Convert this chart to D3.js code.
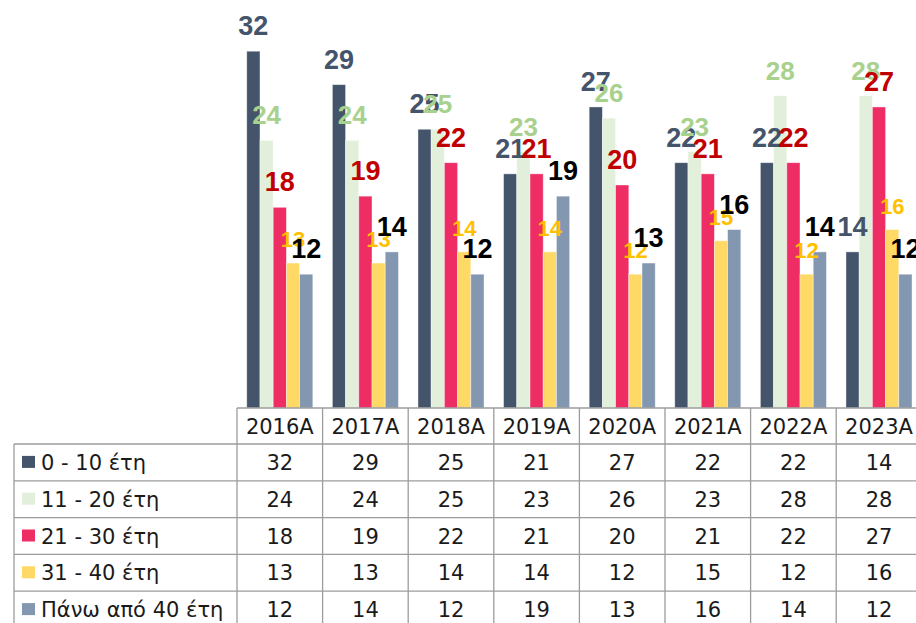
<!DOCTYPE html>
<html>
<head>
<meta charset="utf-8">
<title>Age groups</title>
<script src="https://d3js.org/d3.v7.min.js"></script>
<style>
body { margin: 0; background: #fff; }
</style>
</head>
<body>
<svg id="chart" width="916" height="623"></svg>
<script>
const categories = ["2016A", "2017A", "2018A", "2019A", "2020A", "2021A", "2022A", "2023A"];
const seriesNames = ["0 - 10 έτη", "11 - 20 έτη", "21 - 30 έτη", "31 - 40 έτη", "Πάνω από 40 έτη"];
const age0to10 = [32, 29, 25, 21, 27, 22, 22, 14];
const age11to20 = [24, 24, 25, 23, 26, 23, 28, 28];
const age21to30 = [18, 19, 22, 21, 20, 21, 22, 27];
const age31to40 = [13, 13, 14, 14, 12, 15, 12, 16];
const ageOver40 = [12, 14, 12, 19, 13, 16, 14, 12];
const series = [age0to10, age11to20, age21to30, age31to40, ageOver40];

const barColors = ["#44546A", "#E2EFDA", "#EE2D64", "#FFD966", "#8497B0"];
const labelColors = ["#44546A", "#A9D18E", "#C00000", "#FFC000", "#000000"];
const labelSizes = [27, 26, 27, 22, 27];

const svg = d3.select("#chart");
const BASE = 408;
const COL_W = 85.6;
const TABLE_X0 = 237;
const ROW_H = 36.8;
const HEAD_H = 36;

const x = d3.scaleBand()
    .domain(categories)
    .range([TABLE_X0, TABLE_X0 + COL_W * categories.length])
    .paddingInner(0).paddingOuter(0);

const xSub = d3.scaleBand()
    .domain(d3.range(series.length))
    .range([0, x.bandwidth()])
    .paddingInner(0).paddingOuter(0.74);

const y = d3.scaleLinear()
    .domain([0, 35])
    .range([BASE, BASE - 35 * 11.15]);

// bars
series.forEach((vals, si) => {
    svg.append("g").selectAll("rect")
        .data(vals)
        .enter()
        .append("rect")
        .attr("x", (d, i) => x(categories[i]) + xSub(si))
        .attr("y", d => y(d))
        .attr("width", xSub.bandwidth())
        .attr("height", d => BASE - y(d))
        .attr("fill", barColors[si])
        .attr("stroke", "rgba(255,255,255,0.5)")
        .attr("stroke-width", 0.8);
});

// labels
series.forEach((vals, si) => {
    svg.append("g").selectAll("text")
        .data(vals)
        .enter()
        .append("text")
        .attr("x", (d, i) => x(categories[i]) + xSub(si) + xSub.bandwidth() / 2)
        .attr("y", d => y(d) - 16)
        .attr("text-anchor", "middle")
        .style("font-family", "'Liberation Sans', Arial, sans-serif")
        .style("font-weight", "bold")
        .style("font-size", labelSizes[si] + "px")
        .attr("fill", labelColors[si])
        .text(d => d);
});

// data table
const table = svg.append("g");
const lineColor = "#9c9c9c";
const fontTable = "'DejaVu Sans', sans-serif";
const tableRight = x.range()[1];
const rowsTop = BASE + HEAD_H;

function hline(x1, x2, yy) {
    table.append("line").attr("x1", x1).attr("x2", x2).attr("y1", yy).attr("y2", yy)
        .attr("stroke", lineColor).attr("stroke-width", 1.3);
}
function vline(xx, y1, y2) {
    table.append("line").attr("x1", xx).attr("x2", xx).attr("y1", y1).attr("y2", y2)
        .attr("stroke", lineColor).attr("stroke-width", 1.3);
}

hline(TABLE_X0, tableRight, BASE);
for (let r = 0; r <= series.length; r++) {
    hline(14, tableRight, rowsTop + r * ROW_H);
}
vline(14, rowsTop, 640);
categories.forEach((c, i) => {
    vline(x(c), BASE, 640);
});
vline(tableRight, BASE, 640);

// header
table.selectAll("text.head")
    .data(categories)
    .enter()
    .append("text")
    .attr("class", "head")
    .attr("x", d => x(d) + x.bandwidth() / 2)
    .attr("y", BASE + HEAD_H / 2 + 7.6)
    .attr("text-anchor", "middle")
    .style("font-family", fontTable)
    .style("font-size", "21px")
    .attr("fill", "#1a1a1a")
    .text(d => d);

// rows
series.forEach((vals, si) => {
    const cy = rowsTop + si * ROW_H + ROW_H / 2;
    table.append("rect")
        .attr("x", 22).attr("y", cy - 6.5)
        .attr("width", 13).attr("height", 12)
        .attr("fill", barColors[si]);
    table.append("text")
        .attr("x", 41).attr("y", cy + 7.6)
        .style("font-family", fontTable)
        .style("font-size", "21px")
        .attr("fill", "#1a1a1a")
        .text(seriesNames[si]);
    table.append("g").selectAll("text")
        .data(vals)
        .enter()
        .append("text")
        .attr("x", (d, i) => x(categories[i]) + x.bandwidth() / 2)
        .attr("y", cy + 7.6)
        .attr("text-anchor", "middle")
        .style("font-family", fontTable)
        .style("font-size", "21px")
        .attr("fill", "#1a1a1a")
        .text(d => d);
});
</script>
</body>
</html>
